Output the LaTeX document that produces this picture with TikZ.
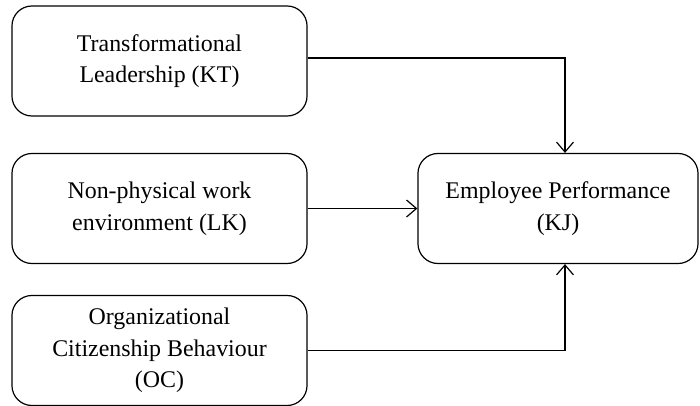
\documentclass[tikz,border=0pt]{standalone}
\usepackage{fontspec}
\setmainfont{Liberation Serif}
\usetikzlibrary{positioning,calc,arrows.meta}

\begin{document}
\begin{tikzpicture}[x=0.025cm, y=-0.025cm, >={Straight Barb[length=7pt,width=12pt]},
    every node/.style={font=\fontsize{17}{22.5}\selectfont},
    var/.style={draw, line width=0.85pt, rounded corners=0.5cm, align=center, minimum width=7.375cm, minimum height=2.75cm}]
    \useasboundingbox (0,0) rectangle (700,406);

    % Independent variables
    \node[var] (kt) at (159.5,61) {Transformational\\Leadership (KT)};
    \node[var] (lk) at (159.5,208.5) {Non-physical work\\environment (LK)};
    \node[var] (oc) at (159.5,350.5) {Organizational\\Citizenship Behaviour\\(OC)};

    % Dependent variable
    \node[var, minimum width=7cm] (kj) at (558,208.5) {Employee Performance\\(KJ)};

    % Paths
    \draw[->, line width=0.85pt] ($(kt.east)+(0,-3)$) -| ($(kj.north)+(7,0)$);
    \draw[->, line width=0.85pt] (lk.east) -- (kj.west);
    \draw[->, line width=0.85pt] (oc.east) -| ($(kj.south)+(7,0)$);
\end{tikzpicture}
\end{document}
